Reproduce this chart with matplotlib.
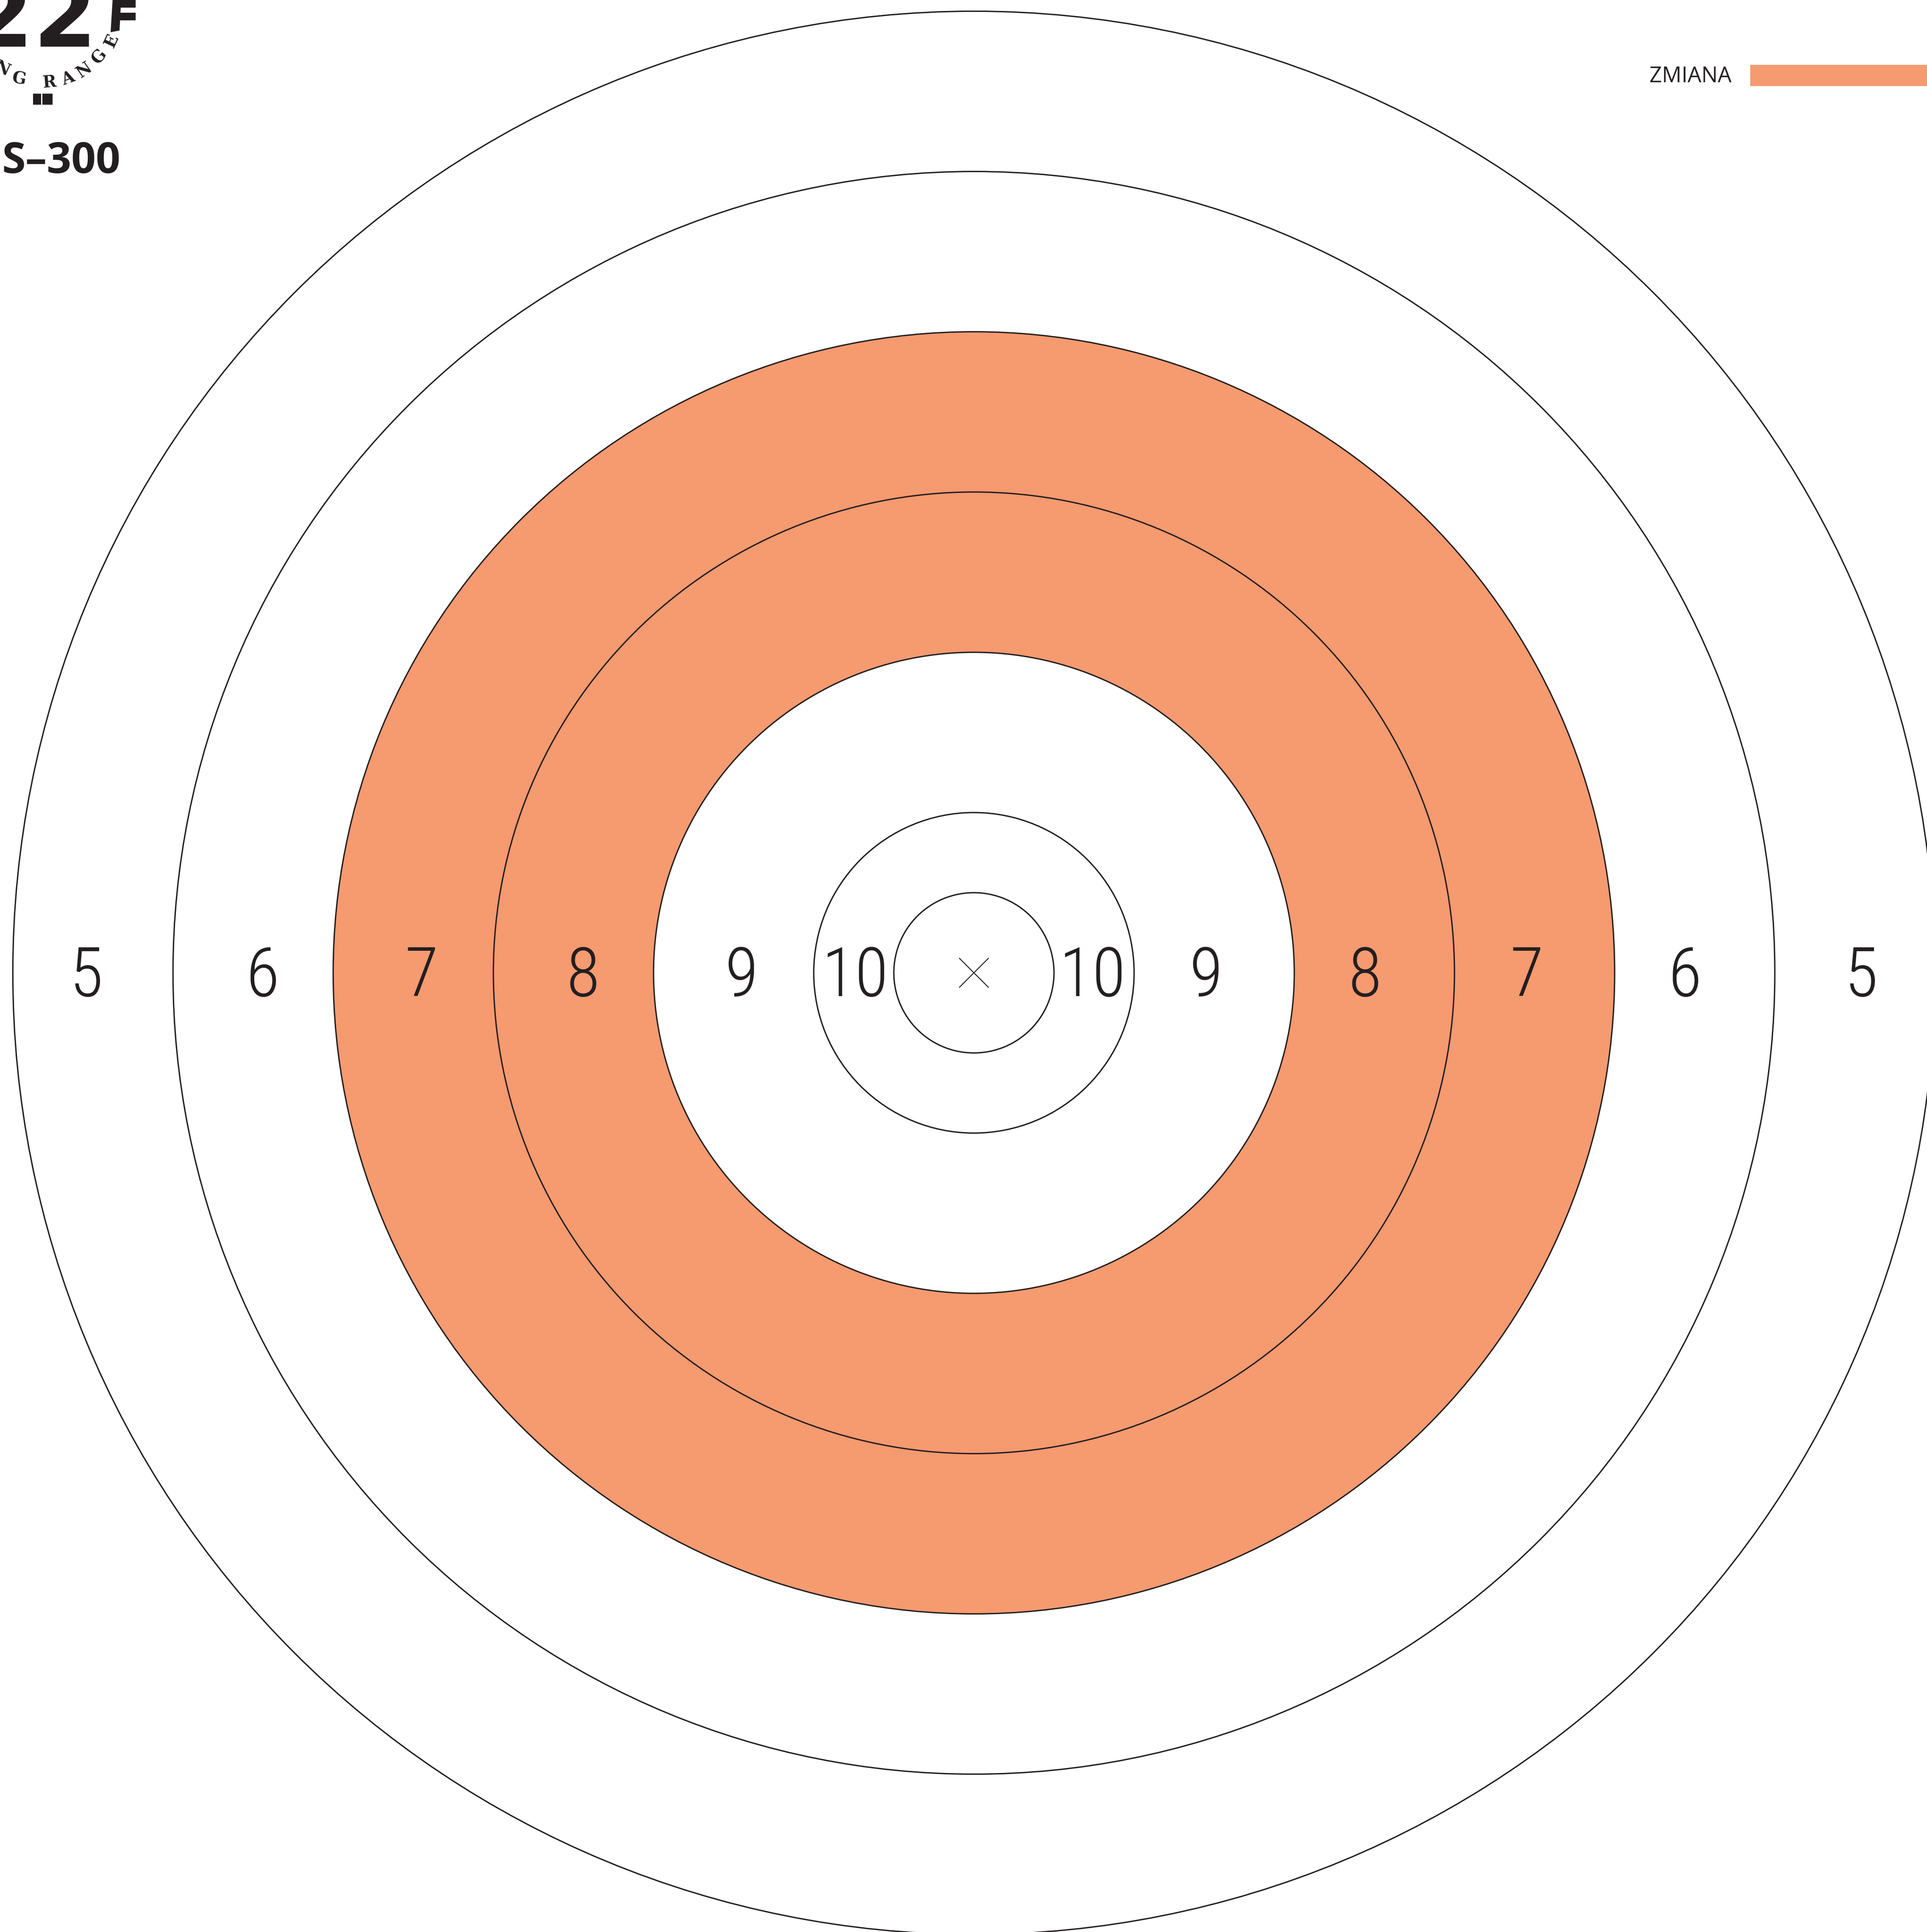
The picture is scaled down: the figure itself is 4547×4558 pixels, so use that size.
import matplotlib
matplotlib.use("Agg")
import matplotlib.pyplot as plt
from matplotlib.patches import Circle, Wedge, Rectangle, Polygon

# target data (ring radii in scoring units, 1 unit = inner ring radius)
ring_radii = [1, 2, 4, 6, 8, 10, 12]
coloured_zone = (4, 8)          # zones 8 and 7 are filled
score_labels = ["10", "9", "8", "7", "6", "5"]
label_offsets = [1.48, 2.9, 4.88, 6.9, 8.88, 11.08]
legend_label = "ZMIANA"
model_name = "S\u2013300"

ink = "#231f20"
orange = "#f69a70"
digit_font = ["Roboto Condensed", "Open Sans"]

W, H = 4547, 4558
fig = plt.figure(figsize=(W / 100, H / 100), dpi=100)
fig.patch.set_facecolor("white")

# target axes in ring units, centre of the target at the origin
ax = fig.add_axes([0, 0, 1, 1])
ax.set_xlim(-12.16, 11.90)
ax.set_ylim(-11.97, 12.14)
ax.axis("off")

r_in, r_out = coloured_zone
ax.add_patch(Wedge((0, 0), r_out, 0, 360, width=r_out - r_in, facecolor=orange, edgecolor="none"))
for r in ring_radii:
    ax.add_patch(Circle((0, 0), r, facecolor="none", edgecolor=ink, lw=2.3))

# centre cross
c = 0.18
ax.plot([-c, c], [-c, c], color=ink, lw=1.6)
ax.plot([-c, c], [c, -c], color=ink, lw=1.6)

for lab, off in zip(score_labels, label_offsets):
    for side in (-1, 1):
        ax.text(side * off, -0.29, lab, ha="center", va="baseline", fontsize=116,
                family=digit_font, fontweight="light", color=ink)

# overlay in pixel coordinates for logo and legend
ov = fig.add_axes([0, 0, 1, 1])
ov.set_xlim(0, W)
ov.set_ylim(H, 0)
ov.axis("off")
ov.patch.set_alpha(0)

# legend strip top right
ov.text(4086, 194, legend_label, ha="right", va="baseline", fontsize=37,
        family="Open Sans", color=ink)
ov.add_patch(Rectangle((4130, 153), 500, 50, facecolor=orange, edgecolor="none"))

# logo (cut by the page edge)
ov.text(228, 110, "22", ha="right", va="baseline", fontsize=155,
        family="DejaVu Sans", fontweight="bold", color=ink)
ov.add_patch(Rectangle((266, -5), 54, 23, facecolor=ink, edgecolor="none"))
ov.add_patch(Rectangle((283, 30), 37, 18, facecolor=ink, edgecolor="none"))
ov.add_patch(Polygon([(266, -5), (286, -5), (282, 72), (261, 76)], closed=True,
                     facecolor=ink, edgecolor="none"))

arc_letters = ["N", "G", "R", "A", "N", "G", "E"]
arc_x = [5, 45, 116, 161, 198, 234, 263]
arc_y = [163, 187, 195, 185, 166, 134, 97]
arc_rot = [-25, -10, 5, 20, 35, 50, 65]
for ch, x, y, rot in zip(arc_letters, arc_x, arc_y, arc_rot):
    ov.text(x, y, ch, ha="center", va="center", rotation=rot, fontsize=28,
            family="DejaVu Serif", fontweight="bold", color=ink)
ov.add_patch(Rectangle((78, 221), 19, 26, facecolor=ink, edgecolor="none"))
ov.add_patch(Rectangle((100, 221), 24, 26, facecolor=ink, edgecolor="none"))

ov.text(4, 408, model_name, ha="left", va="baseline", fontsize=73,
        family="Open Sans", fontweight="bold", color=ink)

fig.savefig("out.png", dpi=100, facecolor="white")
